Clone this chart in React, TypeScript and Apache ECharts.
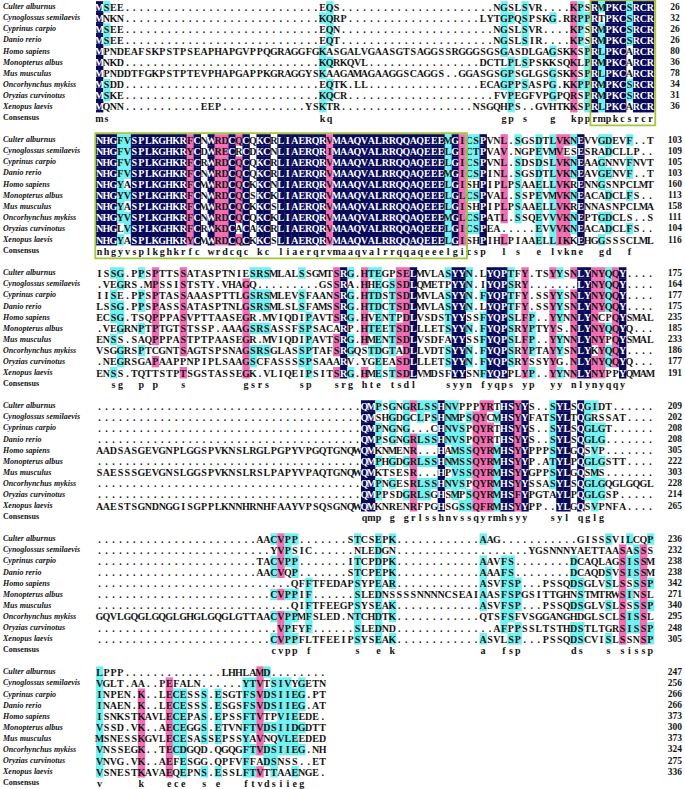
import React, { useEffect, useRef } from "react";
import * as echarts from "echarts";

// ---------- data ----------
const species = [
  "Culter alburnus",
  "Cynoglossus semilaevis",
  "Cyprinus carpio",
  "Danio rerio",
  "Homo sapiens",
  "Monopterus albus",
  "Mus musculus",
  "Oncorhynchus mykiss",
  "Oryzias curvinotus",
  "Xenopus laevis",
];

// g(n): a run of n alignment gaps
const g = (n: number) => ".".repeat(n);

const block1 = [
  "MSEE" + g(28) + "EQS" + g(22) + "NGSLSVR" + g(4) + "KPS" + "RMPKCSRCR",
  "MNKN" + g(28) + "KQRP" + g(19) + "LYTGPQSPSKG" + g(1) + "RRPP" + "RTPKCSRCR",
  "MSEE" + g(28) + "EQN" + g(22) + "NGSLSVR" + g(4) + "KPS" + "RMPKCSRCR",
  "MSEE" + g(28) + "EQT" + g(22) + "NGSLSIR" + g(4) + "KPS" + "RMPKCSRCR",
  "MPNDEAFSKPSTPSEAPHAPGVPPQGRAGGFGKASGALVGAASGTSAGGSSRGGGSGSGASDLGAGSKKSPRLPKCARCR",
  "MNKD" + g(28) + "KQRKQVL" + g(16) + "DCTLPLSPSKKSQKLP" + "RMPKCARCR",
  "MPNDDTFGKPSTPTEVPHAPGAPPKGRAGGYSKAAGAMAGAAGGSCAGGS" + g(2) + "GGASGSGPSGLGSGSKKSP" + "RLPKCARCR",
  "MSDD" + g(28) + "EQTK.LL" + g(16) + "ECAGPPSASPG.KKPP" + "RMPKCSRCR",
  "MSKE" + g(28) + "KQCR" + g(21) + "FVPEGFVPGPQRSP" + "RMPKCSRCR",
  "MQNN" + g(11) + "EEP" + g(12) + "YSKTR" + g(19) + "NSGQHPS" + g(2) + "GVHTKKSP" + "RLPKCARCR",
];
const block2 = [
  "NHGFVSPLKGHKRFCNWRDCQCQKCRLIAERQRVMAAQVALRRQQAQEEEMGI" + "CSPVNL.SGSDTLVKNEVVGDEVF..T",
  "NHGFVSPLKGHKRYCDWRECRCDKCNLIAERQRIMAAQVALRRQQAQEEELGI" + "CTPVAV.NGPEVMVESESRADCLLP..",
  "NHGFVSPLKGHKRFCRWRDCQCQKCRLIAERQRVMAAQVALRRQQAQEEELGI" + "CSPVNL.SDSDSLVKNEAAGNNVFNVT",
  "NHGFVSPLKGHKRFCNWRDCQCQKCRLIAERQRVMAAQVALRRQQAQEEEMGI" + "CSPINL.SGSDTLVKNEAVGENVF..T",
  "NHGYASPLKGHKRFCMWRDCQCKKCNLIAERQRVMAAQVALRRQQAQEEELGI" + "SHPIPLPSAAELLVKRENNGSNPCLMT",
  "NHGYVSPLKGHKRFCNWRDCQCSKCKLIAERQRVMAAQVALRRQQAQEEELGL" + "CSPVAL.SSPEVMVKNEACADCLFS..",
  "NHGYASPLKGHKRFCMWRDCQCKKCSLIAERQRVMAAQVALRRQQAQEEELGI" + "SHPIPLPSAAELLVKRENNASNPCLMA",
  "NHGYVSPLKGHKRFCNWRDCQCQKCKLIAERQRVMAAQVALRRQQAQEEEMGL" + "CSPATL.SSQEVVVKNEPTGDCLS..S",
  "NHGLVSPLKGHKRFCRWKDCACAKCRLIAERQRVMAAQVALRRQQAQEEELGI" + "CSPEA.....EVVVKNEACADCLFS..",
  "NHGYASPLKGHKRYCMWRDCQCKKCSLIAERQRVMAAQVALRRQQAQEEELGI" + "SHPIHLPIAAELLIKKEHGGSSSCLML",
];
const block3 = [
  "ISSG.PPSPTTSSATASPTNIESRSMLALSSGMTSRG.HTEGPSELMVLASYYN.LYQPTFY.TSYYSNLYNYQQY....",
  ".VEGRS.MPSSISTSTY.VHAGQ" + g(9) + "GSSRA.HHEGSSDLQMETPYYN.IYQPSRY" + g(7) + "LYNYQQY....",
  "IISE.PPSPTASSAAASPTTLGSRSMLEVSFAANSRG.HTDSTSDLMVLASYYN.FYQPTFY.SSYYSNLYNYQQY....",
  "LSSG.PPSPASSSATASPTNLGSRSMLSLSFAMSSRG.HTDCTSDLMVLASYYN.LYQPTFY.SSYYSNLYNYQQY....",
  "ECSG.TSQPPPASVPTTAASEGR.MVIQDIPAVTSRG.HVENTPDLVSDSTYYSSFYQPSLFP..YYNNLYNCPQYSMAL",
  ".VEGRNPTPTGTSTSSP.AAAGSRSASSFSPSACARP.HTEETSDLLLETSYYN.FYQPSRYPTYYS.NLYNYQQYQ...",
  "ENSS.SAQPPPASTPTPAASEGR.MVIQDIPAVTSRG.HMENTSDLVSDFAYYSSFYQPSLFP..YYNNLYNYPQYSMAL",
  "VSGGRSPTCGNTSAGTSPSNAGSRSGLASSPTAFSRGQSTDGTADLLVDTSYYN.FYQPSRYPTAYYSNLYKYQQY....",
  ".NEGRSGAPAAPPNPIPLSAAGSCFASSSSPSAAARV.YGEEASDLLLETSYYN.FYQPSRYSSYYG.NLYNYQQYQ...",
  "ENSS.TQTTSTPTSGSTASSEGK.VLIQEIPSITSRG.HMESTSDLVMDSFYYSNFYQPPLYP..YYNNLYNYPPYQMAM",
];
const block4 = [
  g(38) + "QMPSGNGRLSSHNVPPPYRTHSYYS..SYLSQGIDT" + g(6),
  g(38) + "QMSHGDGCLPSHNMPSQYCMHSYYFATSYLTQGRSSAT" + g(4),
  g(38) + "QMPNGNG...CHNVSPQYRTHSYYS..SYLSQGLGT" + g(6),
  g(38) + "QMPSGNGRLSSHNVSPQYRTHSYYS..SYLSQGLG" + g(7),
  "AADSASGEVGNPLGGSPVKNSLRGLPGPYVPGQTGNQW" + "QMKNMENR...HAMSSQYRMHSYYPPPSYLGQSVP" + g(7),
  g(38) + "QMPHGDGRLSSHNMSSQYRMHSYYP.ATYLPQGLGSTT" + g(4),
  "SAESSSGEVGNSLGGSPVKNSLRSLPAPYVPAQTGNQW" + "QMKTSESR...HPVSSQYRMHSYYGPPSYLGQSMS" + g(7),
  g(38) + "QMPNGESRLSSHNVSPQYRMHSYYSSASYLSQGLGQGLGQGL",
  g(38) + "QMPPSDGRLSGHSMPSQYRMHSFYPGTAYLPQGLGSP" + g(5),
  "AAESTSGNDNGGISGPPLKNNHRNHFAAYVPSQSGNQW" + "QMKNRENRFPGHSGSSQFRMHSYYPP..YLGQSVPNFA" + g(4),
];
const block5 = [
  g(23) + "AACVPP" + g(7) + "STCSEPK" + g(12) + "AAG" + g(11) + "GISSSVILCQP",
  g(25) + "YVPSIC" + g(6) + "NLEDGN" + g(19) + "YGSNNNYAETTAASASSS",
  g(23) + "TACVPP" + g(7) + "ITCPDPK" + g(12) + "AAVFS" + g(8) + "DCAQLAGSISSM",
  g(23) + "AACVQP" + g(7) + "STCPEPK" + g(12) + "AAAFS" + g(8) + "DCAQDSVSISSM",
  g(28) + "QFFTFEDAPSYPEAR" + g(12) + "ASVFSP" + g(3) + "PSSQDSGLVSLSSSSP",
  g(25) + "CVPPIF" + g(6) + "SLEDNSSSSNNNNCSEAI" + "AASFSPGSITTGHNSTMTRWSINSL",
  g(28) + "QIFTFEEGPSYSEAK" + g(12) + "ASVFSP" + g(3) + "PSSQDSGLVSLSSSSP",
  "GQVLGQGLGQGLGHGLGQGLGTTAACVPPMFSLED.NTCHDTK" + g(12) + "QTSFSFVSGGANGHDGLSCLSISSL",
  g(26) + "VPFYF" + g(6) + "SLEDND" + g(14) + "AFPPSSLTSTHDSTLTGRSISSP",
  g(25) + "CVPPFLTFEEIPSYSEAK" + g(12) + "ASVLSP" + g(3) + "PSSQDSCVISLSSNSP",
];
const block6 = [
  "LPPP" + g(14) + "LHHLAMD" + g(8),
  "VGLT.AA..PEFALN" + g(6) + "YTVTSIVYGETN",
  "INPEN.K..LECESSS.ESGTFSVDSIIEG.PT",
  "INAEN.K..LECESSS.ESGSFSVDSIIEG.AT",
  "ISNKSTKAVLECEPAS.EPSSFTVTPVIEEDE.",
  "VSSD.VK..AECEGGS.ETVNFTVDSIIDGDTT",
  "MSNESSKGVLECESASSEPSSYAVNQVLEEDED",
  "VNSSEGK..TECDGQD.QGQGFTVDSIIEG.NH",
  "VNVG.VK..AEFESGG.QPFVFFADSNSS..ET",
  "VSNESTKAVAEQEPNS.ESSLFTVTTAAENGE.",
];

const ends1 = [26, 32, 26, 26, 80, 36, 78, 34, 31, 36];
const ends2 = [103, 109, 105, 103, 160, 113, 158, 111, 104, 116];
const ends3 = [175, 164, 177, 175, 235, 185, 233, 186, 177, 191];
const ends4 = [209, 202, 208, 208, 305, 222, 303, 228, 214, 265];
const ends5 = [236, 232, 238, 238, 342, 271, 340, 295, 248, 305];
const ends6 = [247, 256, 266, 266, 373, 300, 373, 324, 275, 336];

// boxed regions: block index and first/last column
const boxes = [
  { block: 0, fromCol: 71, toCol: 79 },
  { block: 1, fromCol: 0, toCol: 52 },
];

// ---------- styling ----------
const NAVY = "#0a0a5a";
const PINK = "#f06eb2";
const CYAN = "#72f1f1";
const BOXC = "#a4c639";
const SERIF = '"Liberation Serif", "Times New Roman", serif';
const CELL_FONT = `bold 10px ${SERIF}`;

const seqBlocks = [block1, block2, block3, block4, block5, block6];
const endBlocks = [ends1, ends2, ends3, ends4, ends5, ends6];
const PER_BLOCK = 12;
const NROWS = PER_BLOCK * seqBlocks.length - 1;

const simGroups = ["ILVM", "FYW", "KR", "DE", "ST", "NQ"];
const similar = (a: string, b: string) =>
  a === b || simGroups.some((s) => s.includes(a) && s.includes(b));

function analyse(blk: string[]) {
  const len = blk[0].length;
  const cons: string[] = [];
  const level: number[] = [];
  for (let c = 0; c < len; c++) {
    const counts: Record<string, number> = {};
    blk.forEach((s) => {
      const ch = s[c];
      if (ch && ch !== ".") counts[ch] = (counts[ch] || 0) + 1;
    });
    let best = "";
    let bc = 0;
    Object.keys(counts).forEach((k) => {
      if (counts[k] > bc) {
        bc = counts[k];
        best = k;
      }
    });
    level.push(bc === blk.length ? 3 : bc >= 8 ? 2 : bc >= 5 ? 1 : 0);
    cons.push(bc >= 5 ? best : "");
  }
  return { cons, level };
}

type Cell = { c: number; r: number; ch: string; bg: string | null; fg: string };

function buildCells(): Cell[] {
  const cells: Cell[] = [];
  const bgs = [null, CYAN, PINK, NAVY];
  seqBlocks.forEach((blk, b) => {
    const bad = blk.filter((s) => s.length !== blk[0].length);
    if (bad.length) throw new Error("block " + (b + 1) + " row lengths: " + blk.map((s) => s.length).join(","));
    const { cons, level } = analyse(blk);
    blk.forEach((s, i) => {
      for (let c = 0; c < s.length; c++) {
        const ch = s[c];
        let bg: string | null = null;
        if (ch !== "." && cons[c] && similar(ch, cons[c])) bg = bgs[level[c]];
        cells.push({ c, r: b * PER_BLOCK + i, ch, bg, fg: bg === NAVY ? "#ffffff" : "#141414" });
      }
    });
    cons.forEach((k, c) => {
      if (k) cells.push({ c, r: b * PER_BLOCK + 10, ch: k.toLowerCase(), bg: null, fg: "#141414" });
    });
  });
  return cells;
}

export default function App() {
  const ref = useRef<HTMLDivElement>(null);
  useEffect(() => {
    if (!ref.current) return;
    const chart = echarts.init(ref.current, undefined, { renderer: "svg" });
    const cells = buildCells();

    const leftLabels: string[] = [];
    const rightLabels: string[] = [];
    for (let b = 0; b < seqBlocks.length; b++) {
      species.forEach((s, i) => {
        leftLabels.push(s);
        rightLabels.push(String(endBlocks[b][i]));
      });
      leftLabels.push("Consensus");
      rightLabels.push("");
      if (b < seqBlocks.length - 1) {
        leftLabels.push("");
        rightLabels.push("");
      }
    }

    const option: any = {
      animation: false,
      backgroundColor: "#ffffff",
      grid: { left: 95, right: 30, top: 1.16, bottom: 0.74, containLabel: false },
      xAxis: { type: "value", min: -0.5, max: 79.5, show: false },
      yAxis: [
        { type: "value", min: -0.5, max: NROWS - 0.5, inverse: true, show: false },
        {
          type: "category",
          data: leftLabels,
          inverse: true,
          position: "left",
          axisLine: { show: false },
          axisTick: { show: false },
          splitLine: { show: false },
          axisLabel: {
            interval: 0,
            align: "left",
            margin: 93,
            formatter: (v: string) => (v === "" ? "" : v === "Consensus" ? `{cs|${v}}` : `{sp|${v}}`),
            rich: {
              sp: { fontFamily: SERIF, fontStyle: "italic", fontWeight: "bold", fontSize: 8, color: "#141414" },
              cs: { fontFamily: SERIF, fontWeight: "bold", fontSize: 8, color: "#141414" },
            },
          },
        },
        {
          type: "category",
          data: rightLabels,
          inverse: true,
          position: "right",
          axisLine: { show: false },
          axisTick: { show: false },
          splitLine: { show: false },
          axisLabel: {
            interval: 0,
            align: "center",
            margin: 21,
            fontFamily: SERIF,
            fontWeight: "bold",
            fontSize: 9.5,
            color: "#141414",
          },
        },
      ],
      series: [
        {
          type: "custom",
          name: "alignment",
          yAxisIndex: 0,
          data: cells.map((d) => [d.c, d.r]),
          renderItem: (params: any, api: any) => {
            const d = cells[params.dataIndex];
            const p = api.coord([api.value(0), api.value(1)]);
            const sz = api.size([1, 1]);
            const children: any[] = [];
            if (d.bg) {
              children.push({
                type: "rect",
                shape: { x: p[0] - sz[0] / 2, y: p[1] - sz[1] / 2, width: sz[0] + 0.4, height: sz[1] + 0.4 },
                style: { fill: d.bg },
              });
            }
            children.push({
              type: "text",
              x: p[0],
              y: p[1] + 0.5,
              style: { text: d.ch, fill: d.fg, font: CELL_FONT, align: "center", verticalAlign: "middle" },
            });
            return { type: "group", children };
          },
        },
        {
          type: "custom",
          name: "boxes",
          yAxisIndex: 0,
          data: boxes.map((bx) => [bx.fromCol, bx.toCol, bx.block * PER_BLOCK]),
          renderItem: (params: any, api: any) => {
            const a = api.coord([api.value(0) - 0.6, api.value(2) - 0.6]);
            const b = api.coord([api.value(1) + 0.7, api.value(2) + 10.7]);
            return {
              type: "rect",
              shape: { x: a[0], y: a[1], width: b[0] - a[0], height: b[1] - a[1] },
              style: { fill: "none", stroke: BOXC, lineWidth: 1.8 },
            };
          },
        },
      ],
    };
    chart.setOption(option);
    return () => chart.dispose();
  }, []);

  return (
    <div
      ref={ref}
      style={{ position: "absolute", left: 0, top: 0, width: 685, height: 789, background: "#fff" }}
    />
  );
}
